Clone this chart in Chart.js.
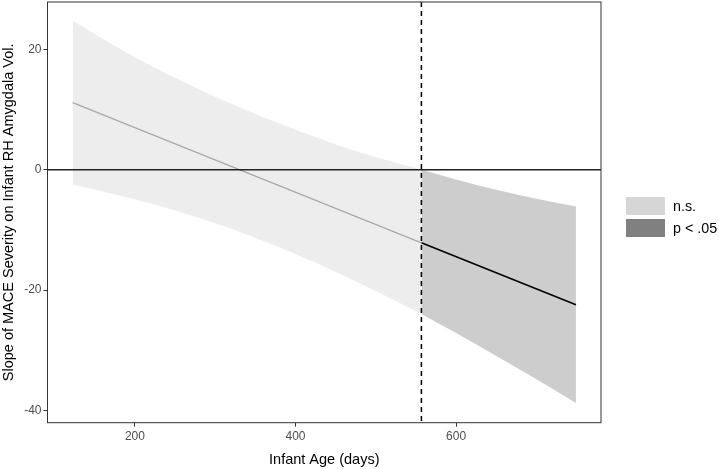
<!DOCTYPE html>
<html>
<head>
<meta charset="utf-8">
<script src="https://cdn.jsdelivr.net/npm/chart.js@4"></script>
<style>
  body { margin: 0; background: #fff; font-family: "Liberation Sans", Arial, sans-serif; }
  #wrap { position: relative; width: 719px; height: 469px; }
  .key { position: absolute; left: 626px; width: 39px; height: 18px; }
  .lab { position: absolute; left: 673px; font-size: 14.3px; color: #000; line-height: 18px; }
</style>
</head>
<body>
<div id="wrap">
  <canvas id="c" width="719" height="469"></canvas>
  <div class="key" style="top:197px;background:#d6d6d6"></div>
  <div class="lab" style="top:197px">n.s.</div>
  <div class="key" style="top:219px;background:#808080"></div>
  <div class="lab" style="top:219px">p &lt; .05</div>
</div>
<script>
// Johnson-Neyman style plot: slope vs infant age, CI band split at significance bound.
const xMin = 91.1, xMax = 780.5;
const yMin = -42.06, yMax = 27.9;
const boundAge = 556.8;

// band (ages in days)
const nsAges   = [122.5, 175, 231, 280, 331, 380, 430, 480, 530, 556.8];
const nsUpper  = [24.79, 20.59, 16.56, 13.37, 10.36, 7.71, 5.21, 2.91, 1.0, 0];
const nsLower  = [-2.50, -4.08, -6.04, -8.00, -10.35, -12.90, -15.75, -18.85, -22.15, -24.0];
const sigAges  = [556.8, 600, 654, 700, 749.3];
const sigUpper = [0, -1.60, -3.44, -4.82, -6.10];
const sigLower = [-24.0, -27.15, -31.25, -34.84, -38.78];

// slope line
const nsLineAges  = [122.5, 556.8];
const nsLineVals  = [11.15, -12.14];
const sigLineAges = [556.8, 749.3];
const sigLineVals = [-12.14, -22.46];

const xTicks = [200, 400, 600];
const yTicks = [-40, -20, 0, 20];

const pts = (xs, ys) => xs.map((x, i) => ({ x, y: ys[i] }));

const refLines = {
  id: "refLines",
  afterDatasetsDraw(chart) {
    const { ctx, chartArea: a, scales: { x, y } } = chart;
    ctx.save();
    const y0 = y.getPixelForValue(0);
    ctx.strokeStyle = "#222";
    ctx.lineWidth = 1.6;
    ctx.beginPath(); ctx.moveTo(a.left, y0); ctx.lineTo(a.right, y0); ctx.stroke();
    const xv = x.getPixelForValue(boundAge);
    ctx.strokeStyle = "#000";
    ctx.lineWidth = 1.5;
    ctx.setLineDash([5, 4]);
    ctx.beginPath(); ctx.moveTo(xv, a.top); ctx.lineTo(xv, a.bottom); ctx.stroke();
    ctx.setLineDash([]);
    ctx.strokeStyle = "#333";
    ctx.lineWidth = 1;
    ctx.strokeRect(a.left, a.top, a.right - a.left, a.bottom - a.top);
    ctx.restore();
  },
};

const band = (data, color, fill, order) => ({
  data, fill, backgroundColor: color, borderWidth: 0, pointRadius: 0,
  cubicInterpolationMode: "monotone", order,
});

new Chart(document.getElementById("c"), {
  type: "line",
  data: {
    datasets: [
      { data: pts(nsLineAges, nsLineVals), borderColor: "#a9a9a9", borderWidth: 1.3, pointRadius: 0, fill: false, order: 0 },
      { data: pts(sigLineAges, sigLineVals), borderColor: "#000", borderWidth: 1.6, pointRadius: 0, fill: false, order: 0 },
      band(pts(nsAges, nsUpper), "#ededed", "+1", 2),
      band(pts(nsAges, nsLower), "#ededed", false, 2),
      band(pts(sigAges, sigUpper), "#cdcdcd", "+1", 1),
      band(pts(sigAges, sigLower), "#cdcdcd", false, 1),
    ],
  },
  options: {
    responsive: false,
    animation: false,
    layout: { padding: { left: 0, right: 118, top: 2, bottom: 0 } },
    plugins: { legend: { display: false }, tooltip: { enabled: false } },
    scales: {
      x: {
        type: "linear", min: xMin, max: xMax,
        afterFit: (s) => { s.height = 46.3; s.paddingLeft = 0; s.paddingRight = 0; },
        afterBuildTicks: (s) => { s.ticks = xTicks.map((v) => ({ value: v })); },
        grid: { drawOnChartArea: false, drawTicks: true, tickLength: 4, color: "#333" },
        border: { display: false },
        ticks: { padding: 3, color: "#4d4d4d", font: { family: "Liberation Sans", size: 12 } },
        title: { display: true, text: "Infant Age (days)", color: "#000",
                 font: { family: "Liberation Sans", size: 14.5 }, padding: { top: 2, bottom: 0 } },
      },
      y: {
        type: "linear", min: yMin, max: yMax,
        afterFit: (s) => { s.width = 47.5; s.paddingTop = 0; s.paddingBottom = 0; },
        afterBuildTicks: (s) => { s.ticks = yTicks.map((v) => ({ value: v })); },
        grid: { drawOnChartArea: false, drawTicks: true, tickLength: 4, color: "#333" },
        border: { display: false },
        ticks: { padding: 2, color: "#4d4d4d", font: { family: "Liberation Sans", size: 12 } },
        title: { display: true, text: "Slope of MACE Severity on Infant RH Amygdala Vol.", color: "#000",
                 font: { family: "Liberation Sans", size: 14.5 }, padding: { top: 0, bottom: 0 } },
      },
    },
  },
  plugins: [refLines],
});
</script>
</body>
</html>
